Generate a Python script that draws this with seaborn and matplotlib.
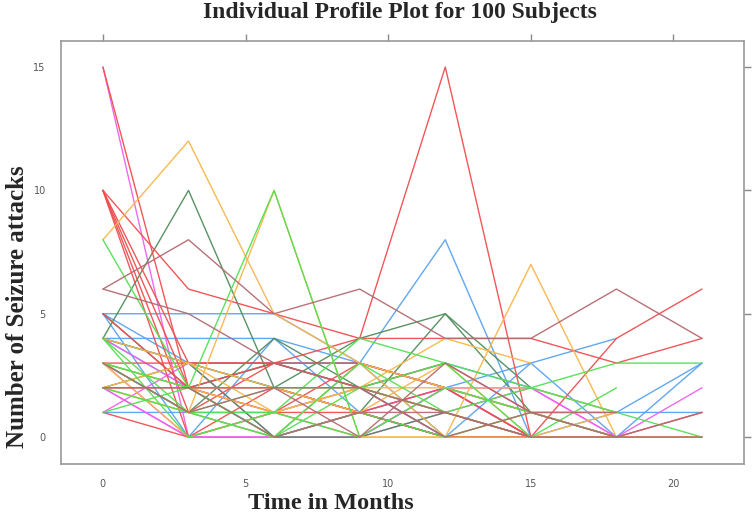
import numpy as np
import pandas as pd
import matplotlib
matplotlib.use("Agg")
import matplotlib.pyplot as plt
import seaborn as sns

nan = np.nan
times = [0, 3, 6, 9, 12, 15, 18, 21]

blue_profiles = [
    [5, 5, 5, 3, 8, 0, nan, nan],
    [5, 3, 2, 1, 0, 0, 1, 3],
    [4, 4, 4, 3, 2, 3, 4, nan],
    [1, 1, 1, 2, 3, 2, 1, 1],
    [4, 3, 3, 3, 2, 0, 0, 3],
    [3, 1, 0, 3, 2, 1, nan, nan],
    [4, 2, 3, 3, 0, 3, 0, nan],
    [5, 0, 4, 1, 2, 1, 1, nan],
]
magenta_profiles = [
    [15, 0, 0, 0, 2, 2, 0, 2],
    [1, 3, 0, 1, 2, 0, 0, nan],
    [2, 0, 1, 0, 2, 2, nan, nan],
    [4, 2, 1, 2, 0, 0, nan, nan],
    [3, 0, 0, 1, 0, nan, nan, nan],
    [2, 0, 0, 0, 1, 2, 0, nan],
]
darkgreen_profiles = [
    [4, 10, 2, 1, 0, nan, nan, nan],
    [4, 3, 2, 4, 5, 2, nan, nan],
    [5, 2, 0, 1, 5, 1, 0, nan],
    [3, 2, 3, 2, 0, 0, nan, nan],
    [2, 3, 0, 0, 1, nan, nan, nan],
    [3, 1, 4, 2, 1, 0, nan, nan],
]
red_profiles = [
    [15, 2, 2, 1, 0, 0, nan, nan],
    [10, 6, 5, 4, 15, 0, 4, 6],
    [10, 3, 3, 4, 4, 4, 3, 4],
    [10, 2, 1, 3, 2, 0, 0, 1],
    [10, 1, 3, 2, 1, 0, nan, nan],
    [10, 0, 2, 1, 2, 0, 0, 0],
    [3, 3, 3, 3, 2, 1, 0, 0],
    [1, 0, 1, 1, 0, 0, nan, nan],
    [5, 2, 3, 2, 3, 1, 0, nan],
]
orange_profiles = [
    [8, 12, 5, 3, 2, 1, 0, nan],
    [2, 1, 10, 0, 0, 0, nan, nan],
    [3, 2, 1, 0, 0, 7, 0, nan],
    [2, 2, 2, 2, 2, 2, 1, nan],
    [4, 3, 2, 1, 3, 0, 1, nan],
    [2, 1, 0, 3, 0, 1, 1, nan],
    [3, 0, 1, 2, 4, 3, nan, nan],
    [2, 3, 1, 2, 1, 0, 0, 0],
]
green_profiles = [
    [8, 2, 10, 0, nan, nan, nan, nan],
    [3, 1, 1, 4, 3, 2, 3, 3],
    [1, 2, 0, 3, 1, 0, 2, nan],
    [4, 1, 2, 2, 1, 2, 1, 0],
    [2, 1, 0, 2, 3, 0, nan, nan],
    [3, 2, 0, 1, 0, 1, 0, nan],
    [4, 0, 1, 0, 2, 1, nan, nan],
]
brown_profiles = [
    [6, 8, 5, 6, 4, 4, 6, 4],
    [6, 5, 3, 2, 1, 0, 0, 1],
    [2, 2, 2, 2, 0, 1, 1, nan],
    [3, 1, 2, 0, 3, 1, 0, 0],
    [2, 2, 0, 1, 1, 0, nan, nan],
]

groups = [
    (blue_profiles, "#5aa2f0"),
    (magenta_profiles, "#f060ee"),
    (darkgreen_profiles, "#4f8d5c"),
    (red_profiles, "#f04e50"),
    (orange_profiles, "#f8b64a"),
    (green_profiles, "#52e052"),
    (brown_profiles, "#b46a72"),
]

rows = []
palette = {}
sid = 0
for profiles, col in groups:
    for prof in profiles:
        palette[sid] = col
        for t, v in zip(times, prof):
            rows.append({"time": t, "count": v, "subject": sid})
        sid += 1
df = pd.DataFrame(rows).dropna()

sns.set_style("white")
fig = plt.figure(figsize=(7.53, 5.17), dpi=100)
ax = fig.add_axes([0.081, 0.1025, 0.907, 0.818])

sns.lineplot(data=df, x="time", y="count", hue="subject", units="subject",
             estimator=None, palette=palette, legend=False, sort=False,
             linewidth=1.0, alpha=0.95, ax=ax)

ax.set_xlim(-1.47, 22.47)
ax.set_ylim(-1.09, 16.05)
ax.set_xticks([0, 5, 10, 15, 20])
ax.set_yticks([0, 5, 10, 15])
ax.set_xlabel("")
ax.set_ylabel("")
ax.tick_params(direction="out", length=5, width=1, color="#888888",
               top=True, right=True, labeltop=False, labelright=False,
               labelsize=7, labelcolor="#555555", pad=6)
for s in ax.spines.values():
    s.set_color("#999999")
    s.set_linewidth(1.2)

fig.text(0.531, 0.975, "Individual Profile Plot for 100 Subjects",
         ha="center", va="center", fontsize=17, fontweight="bold",
         family="Liberation Serif")
fig.text(0.44, 0.027, "Time in Months", ha="center", va="center",
         fontsize=17.5, fontweight="bold", family="Liberation Serif")
fig.text(0.023, 0.406, "Number of Seizure attacks", ha="center", va="center",
         rotation=90, fontsize=18, fontweight="bold", family="Liberation Serif")

fig.savefig("out.png", dpi=100)
